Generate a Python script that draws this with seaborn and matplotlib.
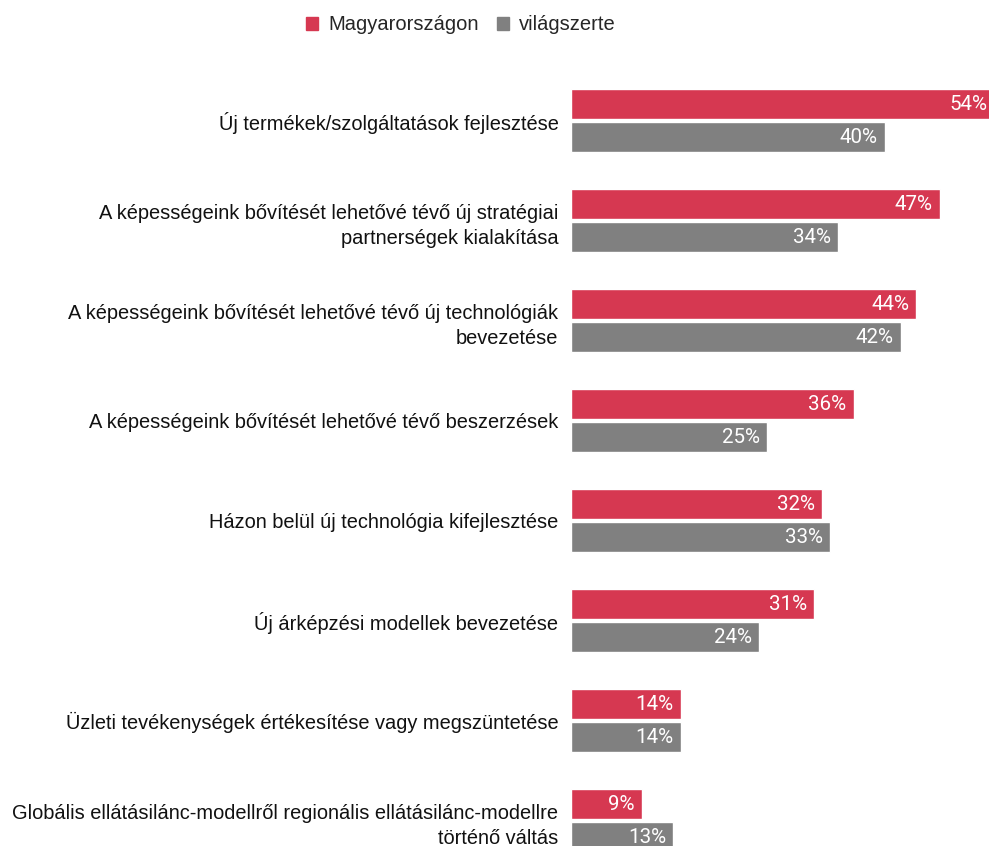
import pandas as pd
import matplotlib.pyplot as plt
import seaborn as sns
from matplotlib.patches import Patch

categories = [
    "Új termékek/szolgáltatások fejlesztése",
    "A képességeink bővítését lehetővé tévő új stratégiai\npartnerségek kialakítása",
    "A képességeink bővítését lehetővé tévő új technológiák\nbevezetése",
    "A képességeink bővítését lehetővé tévő beszerzések",
    "Házon belül új technológia kifejlesztése",
    "Új árképzési modellek bevezetése",
    "Üzleti tevékenységek értékesítése vagy megszüntetése",
    "Globális ellátásilánc-modellről regionális ellátásilánc-modellre\ntörténő váltás",
]
hungary = [54, 47, 44, 36, 32, 31, 14, 9]
world = [40, 34, 42, 25, 33, 24, 14, 13]
series = ["Magyarországon", "világszerte"]
colors = ["#D63851", "#808080"]

df = pd.DataFrame({
    "category": categories * 2,
    "value": hungary + world,
    "series": [series[0]] * len(categories) + [series[1]] * len(categories),
})

sns.set_style("white")
plt.rcParams['font.family'] = ['Liberation Sans', 'DejaVu Sans']

fig = plt.figure(figsize=(9.89, 8.46), dpi=100)
ax = fig.add_axes([571 / 989, 0, 1 - 571 / 989, 1])

sns.barplot(data=df, y="category", x="value", hue="series", palette=colors,
            saturation=1, orient="h", width=0.66, gap=0.09, legend=False, ax=ax,
            order=categories, hue_order=series)

ax.set_xlim(0, 418 / 7.85)
ax.set_ylim(7.255, -1.205)
ax.set_xlabel("")
ax.set_ylabel("")
ax.set_xticks([])
sns.despine(ax=ax, left=True, bottom=True)
ax.tick_params(axis="y", length=0, pad=9)
ax.set_yticks(range(len(categories)))
ax.set_yticklabels(categories, fontsize=14.4, color="#111111", linespacing=1.45)

for container in ax.containers:
    for bar in container:
        w = bar.get_width()
        y = bar.get_y() + bar.get_height() / 2
        ax.text(w - 0.9, y, f"{w:.0f}%", ha="right", va="center",
                color="white", fontsize=14.8, family="Roboto", clip_on=False)

handles = [Patch(color=c, label=s) for c, s in zip(colors, series)]
fig.legend(handles=handles, loc="center", bbox_to_anchor=(461 / 989, 1 - 25 / 846),
           ncol=2, frameon=False, fontsize=14.5, handlelength=0.6, handleheight=0.6,
           handletextpad=0.5, columnspacing=0.9)

fig.savefig("out.png", dpi=100)
